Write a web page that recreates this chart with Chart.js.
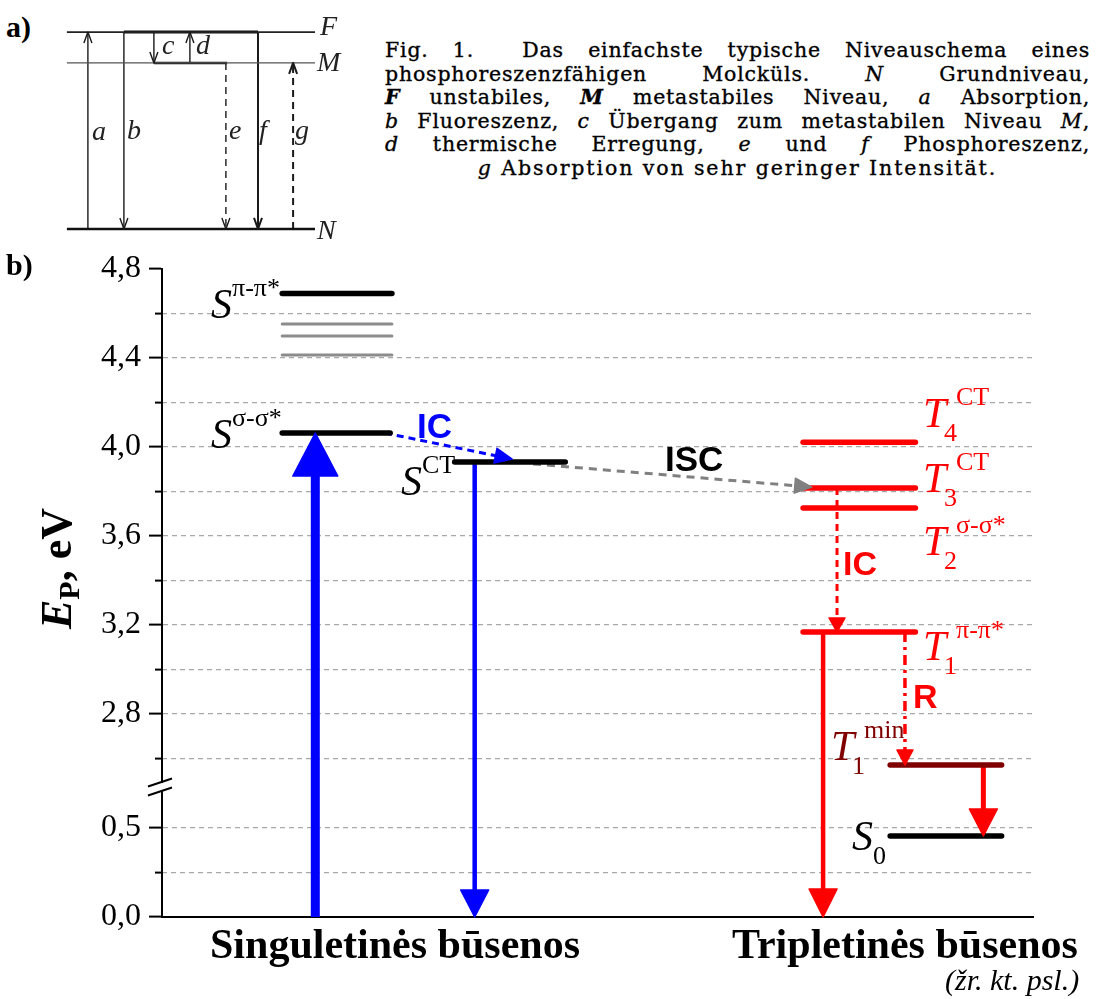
<!DOCTYPE html>
<html>
<head>
<meta charset="utf-8">
<script src="https://cdn.jsdelivr.net/npm/chart.js"></script>
<style>
  html, body { margin: 0; padding: 0; background: #fff; }
  #page { position: relative; width: 1101px; height: 999px; overflow: hidden; }
  canvas { position: absolute; }
  .t { position: absolute; white-space: nowrap; line-height: 1; }
  .serif { font-family: "Liberation Serif", "Times New Roman", serif; }
  .sans { font-family: "Liberation Sans", Arial, sans-serif; font-weight: bold; }
  #caption { position: absolute; left: 385px; top: 39px; width: 705px;
    font-family: "DejaVu Serif", serif; font-size: 20.5px; color: #000; letter-spacing: 0.8px;
    -webkit-text-stroke: 0.35px #000; }
  #caption div { height: 23.6px; line-height: 23.6px; white-space: nowrap; text-align: justify; text-align-last: justify; }
  #caption div.last { text-align-last: center; letter-spacing: 1.9px; }
</style>
</head>
<body>
<div id="page">
  <canvas id="chartA" width="300" height="217" style="left:60px;top:22px"></canvas>
  <canvas id="chartB" width="1101" height="754" style="left:0;top:245px"></canvas>
  <div id="caption">
    <div>Fig. 1.&nbsp; Das einfachste typische Niveauschema eines</div>
    <div>phosphoreszenzfähigen Molcküls. <i>N</i> Grundniveau,</div>
    <div><b><i>F</i></b> unstabiles, <b><i>M</i></b> metastabiles Niveau, <i>a</i> Absorption,</div>
    <div><i>b</i> Fluoreszenz, <i>c</i> Übergang zum metastabilen Niveau <i>M</i>,</div>
    <div><i>d</i> thermische Erregung, <i>e</i> und <i>f</i> Phosphoreszenz,</div>
    <div class="last"><i>g</i> Absorption von sehr geringer Intensität.</div>
  </div>
  <div class="t serif" style="left:35px;top:629px;transform-origin:0 0;transform:rotate(-90deg);font-size:44px;font-weight:bold;">
    <i>E</i><span style="font-size:30px;position:relative;top:8px">P</span>, eV
  </div>
</div>
<script>
// ---------- a) classic level scheme ----------
const A_LEVELS = [0, 0.843, 1];            // N, M, F
const A_SPAN = [0.023, 0.85];
// [x, from, to]
const A_TRANS = {
  a: [0.093, 0, 1],
  b: [0.213, 1, 0],
  c: [0.313, 1, 0.843],
  d: [0.433, 0.843, 1],
  e: [0.553, 0.843, 0],
  f: [0.66, 1, 0],
  g: [0.777, 0, 0.843]
};

// ---------- b) energy diagram ----------
const MAJOR_E = [0, 0.5, 2.8, 3.2, 3.6, 4.0, 4.4, 4.8];
const MAJOR_LABELS = ["0,0", "0,5", "2,8", "3,2", "3,6", "4,0", "4,4", "4,8"];
const MINOR_E = [0.25, 2.6, 3.0, 3.4, 3.8, 4.2, 4.6];
const CATEGORIES = ["Singuletinės būsenos", "Tripletinės būsenos"];
const CATEGORY_X = [26.75, 85.3];

const S_PP = 4.69, S_SS = 4.063, S_CT = 3.933;
const S_BAND = [4.553, 4.499, 4.413];
const T_LEVELS = [4.022, 3.816, 3.726, 3.169];   // T4, T3, T2, T1
const T1_MIN = 2.571, S0 = 0.455;

const S_X = [13.8, 26.4];
const SCT_X = [33.6, 46.3];
const T_X = [73.6, 86.5];
const LOW_X = [83.6, 96.4];

// arrows: [x0, E0, x1, E1]
const ABSORPTION = [17.6, 0, 17.6, S_SS];
const FLUO = [35.9, S_CT, 35.9, 0];
const IC_S = [25.6, S_SS, 40.2, 3.946];
const ISC = [42.6, 3.924, 74.6, 3.82];
const IC_T = [77.5, T_LEVELS[1], 77.5, T_LEVELS[3]];
const PHOS_T1 = [75.9, T_LEVELS[3], 75.9, 0];
const RELAX = [85.3, T_LEVELS[3], 85.3, T1_MIN];
const PHOS_MIN = [94.3, T1_MIN, 94.3, S0];

// broken axis: lower part squeezed under the break
const BREAK_LO = 0.73, BREAK_HI = 2.472, LOW_SCALE = 0.8;
const toAxis = e => e >= BREAK_HI ? e : BREAK_HI - (BREAK_LO - e) * LOW_SCALE;
const Y_MIN = toAxis(0), Y_MAX = 4.8;

const BLUE = "#0000ff", RED = "#ff0000", DARKRED = "#800000";

// arrow heads at the last point of datasets that carry a `head`
const arrowHeads = {
  id: "arrowHeads",
  afterDatasetUpdate(chart, args) {
    const ds = chart.data.datasets[args.index];
    if (!ds.head) return;
    const pts = args.meta.data;
    const a = pts[pts.length - 2], b = pts[pts.length - 1];
    const d = Math.hypot(b.x - a.x, b.y - a.y);
    const ux = (b.x - a.x) / d, uy = (b.y - a.y) / d;
    args.meta.$tip = { x: b.x, y: b.y, ux, uy };
    if (!ds.head.open) {
      b.x -= ux * ds.head.len * 0.6;
      b.y -= uy * ds.head.len * 0.6;
    }
  },
  afterDatasetsDraw(chart) {
    const ctx = chart.ctx;
    chart.data.datasets.forEach((ds, i) => {
      if (!ds.head) return;
      const t = chart.getDatasetMeta(i).$tip;
      const { len, wid, open } = ds.head;
      const bx = t.x - t.ux * len, by = t.y - t.uy * len;
      const nx = -t.uy * wid / 2, ny = t.ux * wid / 2;
      ctx.save();
      ctx.beginPath();
      ctx.moveTo(bx + nx, by + ny);
      ctx.lineTo(t.x, t.y);
      ctx.lineTo(bx - nx, by - ny);
      ctx.strokeStyle = ds.borderColor;
      ctx.lineJoin = "round";
      if (open) {
        ctx.lineWidth = ds.borderWidth;
        ctx.stroke();
      } else {
        ctx.closePath();
        ctx.fillStyle = ds.borderColor;
        ctx.fill();
        ctx.lineWidth = 1.5;
        ctx.stroke();
      }
      ctx.restore();
    });
  }
};

// the // mark on the y axis
const axisBreak = {
  id: "axisBreak",
  afterDraw(chart) {
    const y = chart.scales.y.getPixelForValue(BREAK_HI);
    const x = chart.chartArea.left;
    const ctx = chart.ctx;
    ctx.save();
    ctx.fillStyle = "#fff";
    ctx.fillRect(x - 3, y - 4, 6, 8);
    ctx.strokeStyle = "#000";
    ctx.lineWidth = 2;
    [-4.5, 4.5].forEach(o => {
      ctx.beginPath();
      ctx.moveTo(x - 14, y + o + 4);
      ctx.lineTo(x + 10, y + o - 4);
      ctx.stroke();
    });
    ctx.restore();
  }
};

function seg(x0, y0, x1, y1, color, width, extra) {
  return Object.assign({
    data: [{ x: x0, y: y0 }, { x: x1, y: y1 }],
    borderColor: color, borderWidth: width
  }, extra || {});
}
function level(xs, e, color, width) {
  return seg(xs[0], toAxis(e), xs[1], toAxis(e), color, width, { borderCapStyle: "round" });
}
function arrow(a, color, width, head, dash) {
  return seg(a[0], toAxis(a[1]), a[2], toAxis(a[3]), color, width, { head, borderDash: dash || [] });
}

// ---------- chart a ----------
const aSets = [];
aSets.push(seg(A_SPAN[0], A_LEVELS[0], A_SPAN[1], A_LEVELS[0], "#111", 2.5));
aSets.push(seg(A_SPAN[0], A_LEVELS[1], A_SPAN[1], A_LEVELS[1], "#555", 1.3));
aSets.push(seg(A_SPAN[0], A_LEVELS[2], A_SPAN[1], A_LEVELS[2], "#222", 1.8));
aSets.push(seg(A_TRANS.c[0], A_LEVELS[1], 0.557, A_LEVELS[1], "#111", 2.5));
aSets.push(seg(A_TRANS.b[0], A_LEVELS[2], A_TRANS.f[0], A_LEVELS[2], "#111", 3));
Object.keys(A_TRANS).forEach(k => {
  const [x, f, t] = A_TRANS[k];
  const dashed = k === "e" || k === "g";
  const w = k === "f" || k === "g" ? 2 : 1.4;
  aSets.push(seg(x, f, x, t, "#1a1a1a", w,
    { head: { len: 11, wid: 8, open: true }, borderDash: dashed ? [7, 5] : [] }));
});

new Chart(document.getElementById("chartA"), {
  type: "line",
  data: { datasets: aSets },
  options: {
    responsive: false, animation: false, events: [],
    layout: { padding: 0 },
    elements: { point: { radius: 0, hitRadius: 0 }, line: { tension: 0, fill: false } },
    plugins: { legend: { display: false }, tooltip: { enabled: false } },
    scales: {
      x: { type: "linear", display: false, min: 0, max: 1 },
      y: { type: "linear", display: false, min: -0.051, max: 1.051 }
    }
  },
  plugins: [arrowHeads]
});

// ---------- chart b ----------
const bSets = [];
bSets.push(level(S_X, S_PP, "#000", 5.5));
S_BAND.forEach(e => bSets.push(level(S_X, e, "#8c8c8c", 3)));
bSets.push(level([S_X[0], 26.2], S_SS, "#000", 5.5));
bSets.push(level(SCT_X, S_CT, "#000", 5.5));
T_LEVELS.forEach(e => bSets.push(level(T_X, e, RED, 5.5)));
bSets.push(level(LOW_X, T1_MIN, DARKRED, 5.5));
bSets.push(level(LOW_X, S0, "#000", 5.5));

bSets.push(arrow(IC_S, BLUE, 3, { len: 17, wid: 15 }, [7, 5]));
bSets.push(arrow(ISC, "#808080", 3, { len: 17, wid: 15 }, [8, 6]));
bSets.push(arrow(IC_T, RED, 3, { len: 14, wid: 16 }, [7, 5]));
bSets.push(arrow(RELAX, RED, 3.5, { len: 15, wid: 16 }, [10, 5, 3, 5]));
bSets.push(arrow(ABSORPTION, BLUE, 9, { len: 43, wid: 45 }));
bSets.push(arrow(FLUO, BLUE, 4.5, { len: 27, wid: 28 }));
bSets.push(arrow(PHOS_T1, RED, 4.5, { len: 28, wid: 28 }));
bSets.push(arrow(PHOS_MIN, RED, 5, { len: 27, wid: 28 }));

const GRID = "#a8a8a8";
new Chart(document.getElementById("chartB"), {
  type: "line",
  data: { datasets: bSets },
  options: {
    responsive: false, animation: false, events: [],
    layout: { padding: { left: 0, right: 68, top: 24, bottom: 0 } },
    elements: { point: { radius: 0, hitRadius: 0 }, line: { tension: 0, fill: false, borderCapStyle: "butt" } },
    plugins: { legend: { display: false }, tooltip: { enabled: false } },
    scales: {
      x: {
        type: "linear", position: "bottom", min: 0, max: 100, bounds: "data",
        afterBuildTicks: s => { s.ticks = CATEGORY_X.map(v => ({ value: v })); },
        afterFit: s => { s.height = 82; s.paddingLeft = 0; s.paddingRight = 0; },
        grid: { display: false, drawTicks: false },
        border: { display: true, color: "#000", width: 2 },
        ticks: {
          autoSkip: false, maxRotation: 0, padding: 5, color: "#000",
          font: { family: "Liberation Serif", size: 42, weight: "bold" },
          callback: (v, i) => CATEGORIES[i]
        }
      },
      y: {
        type: "linear", position: "left", weight: 1, min: Y_MIN, max: Y_MAX, bounds: "data",
        afterBuildTicks: s => { s.ticks = MAJOR_E.map(e => ({ value: toAxis(e) })); },
        afterFit: s => { s.width = 162; s.paddingTop = 0; s.paddingBottom = 0; },
        grid: {
          color: c => (c.index === 0 || c.index === MAJOR_E.length - 1) ? "rgba(0,0,0,0)" : GRID,
          lineWidth: 1.2, tickLength: 13, tickColor: "#000", tickWidth: 2, tickBorderDash: []
        },
        border: { display: true, color: "#000", width: 2, dash: [5, 4] },
        ticks: {
          autoSkip: false, padding: 8, color: "#000",
          font: { family: "Liberation Serif", size: 32 },
          callback: (v, i) => MAJOR_LABELS[i]
        }
      },
      y2: {
        type: "linear", position: "left", weight: 0, min: Y_MIN, max: Y_MAX, bounds: "data",
        afterBuildTicks: s => { s.ticks = MINOR_E.map(e => ({ value: toAxis(e) })); },
        afterFit: s => { s.width = 0; s.paddingTop = 0; s.paddingBottom = 0; },
        grid: { color: GRID, lineWidth: 1.2, tickLength: 7, tickColor: "#000", tickWidth: 2, tickBorderDash: [] },
        border: { display: false, dash: [5, 4] },
        ticks: { display: false }
      }
    }
  },
  plugins: [arrowHeads, axisBreak]
});

// ---------- text labels ----------
const page = document.getElementById("page");
function label(html, x, base, size, cls, style) {
  const el = document.createElement("div");
  el.className = "t " + cls;
  el.innerHTML = html;
  el.style.left = x + "px";
  el.style.top = (base - 0.84 * size) + "px";
  el.style.fontSize = size + "px";
  if (style) el.style.cssText += style;
  page.appendChild(el);
}
// level name: italic letter with optional sub- and superscript
function levelName(letter, sub, sup, x, base, color) {
  const c = "color:" + color;
  label("<i>" + letter + "</i>", x, base, 42, "serif", c);
  if (sub) label(sub, x + 21, base + 15, 26, "serif", c);
  if (sup) label(sup, x + (sub ? 33 : 21), base - 21, 26, "serif", c);
}

label("a)", 6, 37, 30, "serif", "font-weight:bold");
label("b)", 6, 275, 30, "serif", "font-weight:bold");

// part a letters
const A_TEXT = [["a", 92, 141], ["b", 127, 140], ["c", 162, 55], ["d", 196, 55], ["e", 229, 140],
  ["f", 259, 140], ["g", 295, 140], ["F", 320, 36], ["M", 317, 72], ["N", 317, 240]];
A_TEXT.forEach(([s, x, b]) => label("<i>" + s + "</i>", x, b, 28, "serif", "color:#222"));

levelName("S", "", "π-π*", 211, 318, "#000");
levelName("S", "", "σ-σ*", 211, 448, "#000");
levelName("S", "", "CT", 401, 495, "#000");
levelName("T", "4", "CT", 923, 427, RED);
levelName("T", "3", "CT", 923, 492, RED);
levelName("T", "2", "σ-σ*", 923, 555, RED);
levelName("T", "1", "π-π*", 923, 660, RED);
levelName("T", "1", "min", 831, 760, DARKRED);
levelName("S", "0", "", 852, 850, "#000");

label("IC", 417, 437, 35, "sans", "color:" + BLUE);
label("ISC", 665, 470, 35, "sans", "color:#000");
label("IC", 843, 575, 34, "sans", "color:" + RED);
label("R", 913, 708, 34, "sans", "color:" + RED);
label("<i>(žr. kt. psl.)</i>", 945, 990, 30, "serif", "color:#000");
</script>
</body>
</html>
